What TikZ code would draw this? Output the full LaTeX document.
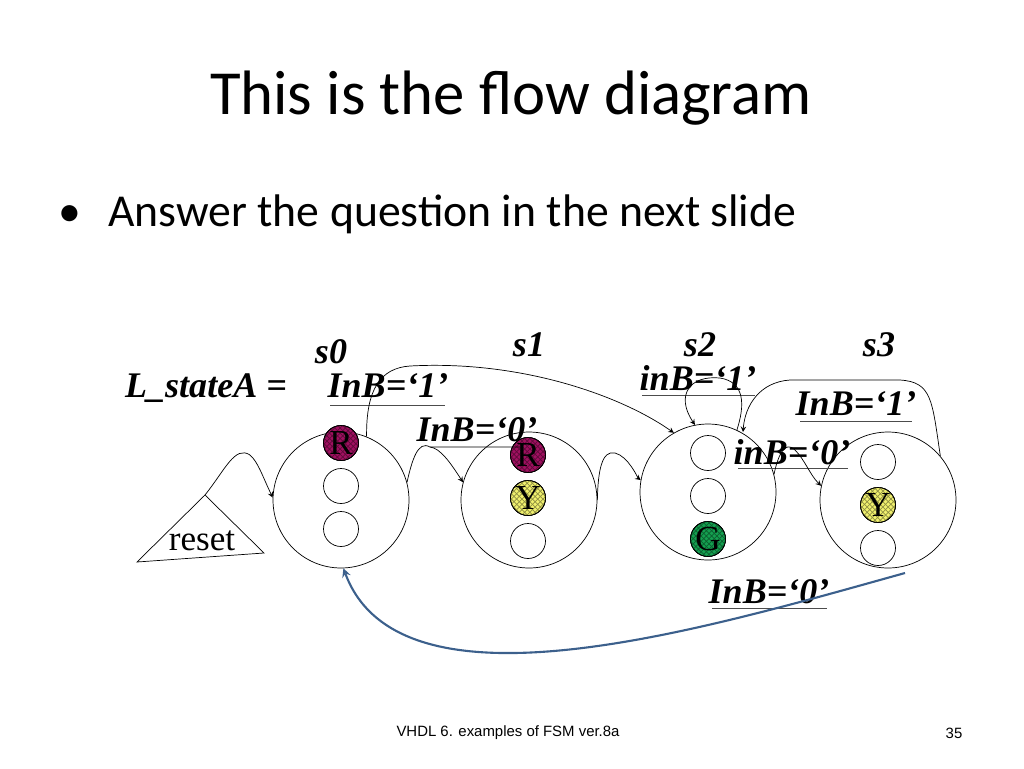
\documentclass[tikz,border=0pt]{standalone}
\usepackage{fontspec}
\setmainfont{Liberation Serif}
\newfontfamily\slidefont{Carlito}
\newfontfamily\footfont{Liberation Sans}
\usetikzlibrary{patterns}
\definecolor{redlamp}{RGB}{160,16,96}
\definecolor{yellamp}{RGB}{240,240,110}
\definecolor{grnlamp}{RGB}{20,160,80}
\definecolor{backarc}{RGB}{60,96,140}
\tikzset{
  state/.style={draw,circle,minimum size=2.72cm,inner sep=0pt},
  lamp/.style={draw,circle,minimum size=0.7cm,inner sep=0pt,font=\fontsize{20pt}{20pt}\selectfont},
  lbl/.style={font=\bfseries\itshape\fontsize{20.5pt}{21pt}\selectfont,inner sep=1pt},
  ul/.style={draw,gray!60!black},
  arr/.style={->,>=stealth}
}
\begin{document}
\begin{tikzpicture}[x=0.02cm,y=-0.02cm]
\useasboundingbox (0,0) rectangle (1024,768);
\node at (511,98) [font=\slidefont\fontsize{35.7pt}{36pt}\selectfont] {This is the flow diagram};
\node[anchor=west] at (52,214) [font=\slidefont\fontsize{26pt}{26pt}\selectfont] {\textbullet\hspace{0.6em}Answer the question in the next slide};
\node at (508,733) [font=\footfont\fontsize{8.5pt}{9pt}\selectfont] {VHDL 6. examples of FSM ver.8a};
\node at (954,733) [font=\footfont\fontsize{8.5pt}{9pt}\selectfont] {35};

% states
\node[state] (s0) at (341,500) {};
\node[state] (s1) at (529,500) {};
\node[state] (s2) at (708,492) {};
\node[state] (s3) at (888,500) {};
\foreach \s/\x/\y in {0/341/443,1/528/455,2/708/453,3/878/462} {
  \node[lamp] (a\s) at (\x,\y) {};
  \node[lamp] (b\s) at (\x,\y+43) {};
  \node[lamp] (c\s) at (\x,\y+86) {};
}
\foreach \n/\c/\t in {a0/redlamp/R,a1/redlamp/R,b1/yellamp/Y,c2/grnlamp/G,b3/yellamp/Y} {
  \node[lamp,fill=\c] at (\n) {};
  \node[lamp,pattern=crosshatch,pattern color=\c!60!black] at (\n) {};
  \node[lamp,draw=none] at (\n) {\t};
}

% labels
\node[lbl] at (331,352) {s0};
\node[lbl] at (529,345) {s1};
\node[lbl] at (700,345) {s2};
\node[lbl] at (879,345) {s3};
\node[lbl] at (206,388) {L\_stateA =};
\node[lbl] (l01) at (388,386) {InB=‘1’};
\node[lbl] (l1) at (477,430) {InB=‘0’};
\node[lbl] (l21) at (698,378) {inB=‘1’};
\node[lbl] (l31) at (856,404) {InB=‘1’};
\node[lbl] (l20) at (792,452) {inB=‘0’};
\node[lbl] (l30) at (769,592) {InB=‘0’};
\draw[ul] (330,405) -- (445,405);
\draw[ul] (642,395) -- (755,395);
\draw[ul] (800,421) -- (912,421);
\draw[ul] (738,468) -- (848,468);
\draw[ul] (712,608) -- (827,608);

% reset
\coordinate (rtop) at (205,495);
\draw (137,562) -- (264,553) -- (rtop) -- cycle;
\node at (202,541) [font=\fontsize{20pt}{20pt}\selectfont] {reset};

% transitions
\draw[arr] (rtop) .. controls (225,470) and (235,445) .. (250,455) .. controls (258,462) and (262,475) .. (s0.178);
\draw (s0.15) .. controls (412,460) and (418,440) .. (430,447) -- (520,447);
\draw[arr] (430,447) .. controls (440,448) and (450,462) .. (s1.165);
\draw[arr] (s0.68) .. controls (366,390) and (380,368) .. (410,366) .. controls (520,360) and (620,395) .. (s2.120);
\draw[arr] (s1.0) .. controls (598,470) and (602,450) .. (615,453) .. controls (628,456) and (638,478) .. (s2.170);
\draw[arr] (s2.65) .. controls (745,405) and (745,382) .. (720,378) .. controls (690,375) and (675,395) .. (s2.101);
\draw[arr] (s3.40) .. controls (932,400) and (932,382) .. (900,380) -- (790,380) .. controls (760,382) and (745,405) .. (743,432);
\draw[arr] (s2.15) .. controls (778,455) and (785,440) .. (795,450) .. controls (805,460) and (810,475) .. (s3.168);
\draw[arr,backarc,very thick] (905,573) .. controls (700,630) and (400,720) .. (s0.272);
\end{tikzpicture}
\end{document}
